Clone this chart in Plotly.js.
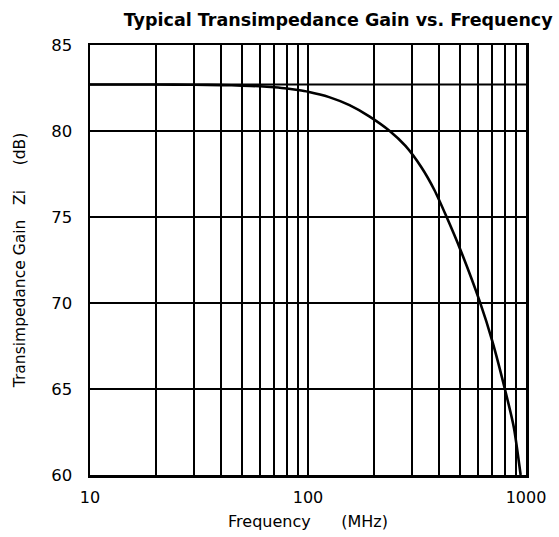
<!DOCTYPE html>
<html>
<head>
<meta charset="utf-8">
<script src="https://cdn.plot.ly/plotly-3.0.1.min.js"></script>
<style>
html,body{margin:0;padding:0;background:#fff;}
#chart{width:559px;height:537px;}
</style>
</head>
<body>
<div id="chart"></div>
<script>
// Frequency (MHz) and transimpedance gain (dB)
var freqMHz = [10, 20, 30, 40, 50, 60, 70, 80, 90, 100, 125, 155, 191, 237, 280, 330, 380, 430, 500, 615, 700, 800, 880, 945];
var gainDB  = [82.7, 82.7, 82.69, 82.67, 82.64, 82.6, 82.54, 82.47, 82.38, 82.28, 81.97, 81.5, 80.85, 80.0, 79.13, 77.92, 76.57, 75.07, 73.1, 70.05, 67.8, 65.0, 62.75, 60.0];

// Extra horizontal reference grid line at the low-frequency gain
var refFreq = [10, 1000];
var refGain = [82.7, 82.7];

// Axis grid / tick labels
var xGridVals = [10, 20, 30, 40, 50, 60, 70, 80, 90, 100, 200, 300, 400, 500, 600, 700, 800, 900, 1000];
var xGridText = ["10", "", "", "", "", "", "", "", "", "100", "", "", "", "", "", "", "", "", "1000"];
var yTickVals = [60, 65, 70, 75, 80, 85];
var yTickText = ["60", "65", "70", "75", "80", "85"];

var traces = [
  {
    x: refFreq, y: refGain, mode: "lines", type: "scatter",
    line: {color: "#000", width: 2}, hoverinfo: "skip", showlegend: false
  },
  {
    x: freqMHz, y: gainDB, mode: "lines", type: "scatter",
    line: {color: "#000", width: 2.6, shape: "spline", smoothing: 0.6},
    showlegend: false
  }
];

var layout = {
  width: 559, height: 537,
  margin: {l: 90, r: 33, t: 45, b: 62},
  paper_bgcolor: "#fff", plot_bgcolor: "#fff",
  font: {family: "DejaVu Sans, Liberation Sans, Arial, sans-serif", color: "#000", size: 15},
  title: {
    text: "<b>Typical Transimpedance Gain vs. Frequency</b>",
    font: {family: "DejaVu Sans, Arial, sans-serif", size: 17.5, color: "#000"},
    x: 0.605, xanchor: "center", y: 0.975, yanchor: "top"
  },
  xaxis: {
    type: "log",
    range: [1, 3],
    tickvals: xGridVals, ticktext: xGridText,
    showgrid: true, gridcolor: "#000", gridwidth: 2,
    showline: true, linecolor: "#000", linewidth: 2.5, mirror: true,
    ticks: "", ticklabelstandoff: 6,
    tickfont: {size: 16},
    zeroline: false,
    title: {text: "Frequency      (MHz)", font: {size: 16}, standoff: 10}
  },
  yaxis: {
    range: [60, 85],
    tickvals: yTickVals, ticktext: yTickText,
    showgrid: true, gridcolor: "#000", gridwidth: 2,
    showline: true, linecolor: "#000", linewidth: 2.5, mirror: true,
    ticks: "", ticklabelstandoff: 12,
    tickfont: {size: 16.5},
    zeroline: false,
    title: {text: "Transimpedance Gain   Zi     (dB)", font: {size: 15.5}, standoff: 22}
  }
};

Plotly.newPlot("chart", traces, layout, {displayModeBar: false, staticPlot: true});
</script>
</body>
</html>
